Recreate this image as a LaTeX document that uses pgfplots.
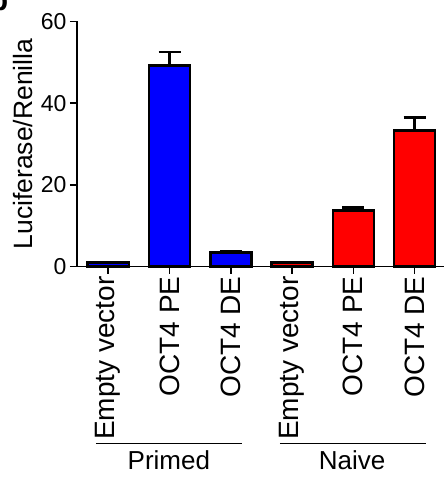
\documentclass[border=0pt]{standalone}
\usepackage{pgfplots}
\pgfplotsset{compat=1.18}
\usepackage{fontspec}
\setmainfont{Liberation Sans}
\begin{document}
\begin{tikzpicture}
\useasboundingbox (-77pt,-210.3pt) rectangle (367pt,266.7pt);
\node[overlay, anchor=south east, inner sep=0pt, font=\bfseries\fontsize{30}{34}\selectfont] at (-68.5pt,256.2pt) {b};
\begin{axis}[
  anchor=south west, at={(0pt,0pt)},
  scale only axis, width=367pt, height=245.4pt,
  xmin=-0.51, xmax=5.48, ymin=0, ymax=60,
  axis x line*=bottom, axis y line*=left,
  axis line style={line width=1.5pt, black, -},
  ytick={0,20,40,60}, xtick={0,1,2,3,4,5},
  xticklabels={Empty vector, OCT4 PE, OCT4 DE, Empty vector, OCT4 PE, OCT4 DE},
  xtick pos=bottom, ytick pos=left,
  tick align=outside, major tick length=7pt,
  tick style={line width=1.5pt, black},
  /pgf/number format/assume math mode=true,
  yticklabel style={font=\fontsize{23}{27}\selectfont},
  xticklabel style={font=\fontsize{28}{32}\selectfont, rotate=90, anchor=east, inner sep=2.5pt},
  ylabel={Luciferase/Renilla},
  ylabel style={font=\fontsize{26.5}{30}\selectfont, at={(axis description cs:-0.1226,0.5)}, rotate=0, anchor=base},
  clip=false,
  ybar, bar width=0.67, bar shift=0pt,
]
\addplot[fill=blue, draw=black, line width=2.5pt,
  error bars/.cd, y dir=plus, y explicit,
  error bar style={line width=2.5pt, black},
  error mark options={rotate=90, mark size=11pt, line width=2.5pt, black}]
  coordinates {(0,1.0) +- (0,0) (1,49.2) +- (0,3.3) (2,3.5) +- (0,0.4)};
\addplot[fill=red, draw=black, line width=2.5pt,
  error bars/.cd, y dir=plus, y explicit,
  error bar style={line width=2.5pt, black},
  error mark options={rotate=90, mark size=11pt, line width=2.5pt, black}]
  coordinates {(3,1.0) +- (0,0) (4,13.8) +- (0,0.7) (5,33.3) +- (0,3.2)};
\draw[line width=1.5pt] (axis cs:-0.2,-43.2) -- (axis cs:2.19,-43.2);
\draw[line width=1.5pt] (axis cs:2.8,-43.2) -- (axis cs:5.19,-43.2);
\node[anchor=base, font=\fontsize{26}{30}\selectfont] at (axis cs:0.99,-49.7) {Primed};
\node[anchor=base, font=\fontsize{26}{30}\selectfont] at (axis cs:3.98,-49.7) {Naive};
\end{axis}
\end{tikzpicture}
\end{document}
